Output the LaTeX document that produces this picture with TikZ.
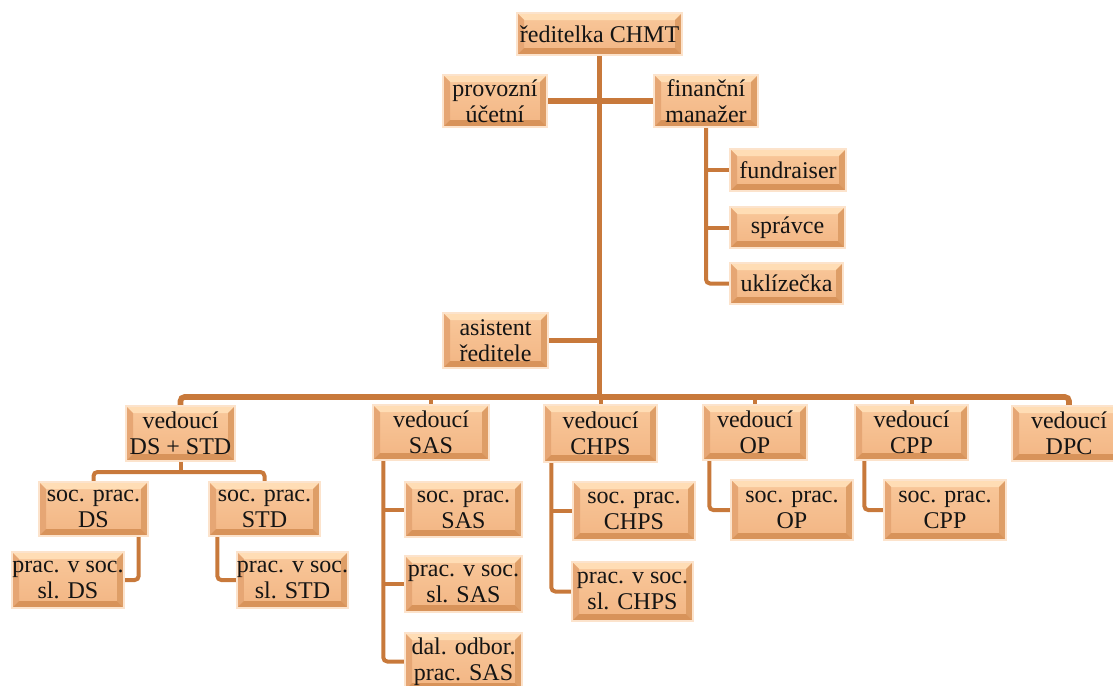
\documentclass[tikz,border=0pt]{standalone}
\usepackage{fontspec}
\setmainfont{Liberation Serif}
\newfontfamily\boxfont{Liberation Serif}
\usetikzlibrary{backgrounds,calc}
\definecolor{boxmid}{HTML}{F5BD8D}
\definecolor{facetop}{HTML}{F9C89B}
\definecolor{facebot}{HTML}{F2B583}
\definecolor{boxedge}{HTML}{FCE3CC}
\definecolor{bvtop}{HTML}{FFDDB5}
\definecolor{bvleft}{HTML}{E6A674}
\definecolor{bvright}{HTML}{DE9E67}
\definecolor{bvbot}{HTML}{D8935A}
\definecolor{conncol}{HTML}{C8793B}
\newcommand\bvw{3.5pt}
\tikzset{
  box/.style={fill=boxmid, draw=boxedge, line width=0.7pt, inner sep=0pt,
    align=center, text=black!92, font=\boxfont\fontsize{12}{13}\selectfont,
    path picture={
      \coordinate (ppnw) at (path picture bounding box.north west);
      \coordinate (ppse) at (path picture bounding box.south east);
      \coordinate (ppne) at (path picture bounding box.north east);
      \coordinate (ppsw) at (path picture bounding box.south west);
      \shade[top color=facetop, bottom color=facebot] (ppnw) rectangle (ppse);
      \fill[bvtop] (ppnw) -- (ppne) -- ([shift={(-\bvw,-\bvw)}]ppne) -- ([shift={(\bvw,-\bvw)}]ppnw) -- cycle;
      \fill[bvleft] (ppnw) -- ([shift={(\bvw,-\bvw)}]ppnw) -- ([shift={(\bvw,\bvw)}]ppsw) -- (ppsw) -- cycle;
      \fill[bvright] (ppne) -- ([shift={(-\bvw,-\bvw)}]ppne) -- ([shift={(-\bvw,\bvw)}]ppse) -- (ppse) -- cycle;
      \fill[bvbot] (ppsw) -- ([shift={(\bvw,\bvw)}]ppsw) -- ([shift={(-\bvw,\bvw)}]ppse) -- (ppse) -- cycle;
    }},
  conn/.style={draw=conncol, line width=2pt, rounded corners=2pt},
  mainconn/.style={conn, line width=2.8pt},
}
% \bx{name}{x1}{y1}{x2}{y2}{text}  (pixel coordinates, y downwards)
\newcommand\bx[6]{\node[box, minimum width={(#4-#2)*0.5pt}, minimum height={(#5-#3)*0.5pt}] (#1) at ({(#2+#4)/2},{(#3+#5)/2}) {#6};}
\begin{document}
\begin{tikzpicture}[x=0.5pt, y=-0.5pt]
\useasboundingbox (0,0) rectangle (1113,685);
\clip (0,0) rectangle (1113,685);

\bx{ceo}{517}{13}{682}{55}{ředitelka CHMT}
\bx{pu}{443}{75}{547}{127}{provozní\\účetní}
\bx{fm}{654}{75}{758}{127}{finanční\\manažer}
\bx{fr}{730}{149}{846}{191}{fundraiser}
\bx{sp}{730}{207}{845}{248}{správce}
\bx{uk}{730}{263}{843}{304}{uklízečka}
\bx{as}{443}{313}{548}{368}{asistent\\ředitele}

\bx{v1}{126}{406}{235}{461}{vedoucí\\DS + STD}
\bx{v2}{373}{405}{489}{460}{vedoucí\\SAS}
\bx{v3}{544}{405}{657}{462}{vedoucí\\CHPS}
\bx{v4}{703}{405}{807}{460}{vedoucí\\OP}
\bx{v5}{855}{405}{968}{460}{vedoucí\\CPP}
\bx{v6}{1012}{406}{1126}{461}{vedoucí\\DPC}

\bx{d1}{39}{482}{148}{536}{soc. prac.\\DS}
\bx{d2}{209}{482}{320}{536}{soc. prac.\\STD}
\bx{d3}{12}{552}{124}{608}{prac. v soc.\\sl. DS}
\bx{d4}{237}{552}{348}{608}{prac. v soc.\\sl. STD}

\bx{s1}{405}{482}{522}{537}{soc. prac.\\SAS}
\bx{s2}{405}{556}{522}{612}{prac. v soc.\\sl. SAS}
\bx{s3}{405}{633}{522}{690}{dal. odbor.\\prac. SAS}

\bx{c1}{573}{482}{695}{540}{soc. prac.\\CHPS}
\bx{c2}{572}{562}{693}{621}{prac. v soc.\\sl. CHPS}

\bx{o1}{731}{480}{853}{540}{soc. prac.\\OP}
\bx{p1}{884}{480}{1006}{540}{soc. prac.\\CPP}

\coordinate (bar) at (600,397);
\coordinate (j1) at (180,472);

\begin{scope}[on background layer]
  % trunk and top level
  \draw[mainconn] (ceo.south) -- (ceo.south |- bar);
  \draw[mainconn] (pu.east) -- (fm.west);
  \draw[mainconn] (as.east) -- (as.east -| ceo.south);
  % financial manager subordinates
  \draw[conn] (fm.south) |- (uk.west);
  \draw[conn] (fm.south |- fr.west) -- (fr.west);
  \draw[conn] (fm.south |- sp.west) -- (sp.west);
  % bar to heads
  \draw[mainconn] (v1.north) |- (v6.north |- bar) -- (v6.north);
  \draw[conn] (v2.north) -- (v2.north |- bar);
  \draw[conn] (v3.north) -- (v3.north |- bar);
  \draw[conn] (v4.north) -- (v4.north |- bar);
  \draw[conn] (v5.north) -- (v5.north |- bar);
  % DS + STD
  \draw[conn] (v1.south) -- (v1.south |- j1);
  \draw[conn] (d1.north) |- (j1) -| (d2.north);
  \draw[conn] ([xshift=-5pt]d1.south east) |- (d3.east);
  \draw[conn] ([xshift=4.5pt]d2.south west) |- (d4.west);
  % SAS
  \coordinate (sv) at ([xshift=5.5pt]v2.south west);
  \draw[conn] (sv) |- (s3.west);
  \draw[conn] (sv |- s1.west) -- (s1.west);
  \draw[conn] (sv |- s2.west) -- (s2.west);
  % CHPS
  \coordinate (cv) at ([xshift=4pt]v3.south west);
  \draw[conn] (cv) |- (c2.west);
  \draw[conn] (cv |- c1.west) -- (c1.west);
  % OP, CPP
  \draw[conn] ([xshift=3.5pt]v4.south west) |- (o1.west);
  \draw[conn] ([xshift=5pt]v5.south west) |- (p1.west);
\end{scope}
\end{tikzpicture}
\end{document}
